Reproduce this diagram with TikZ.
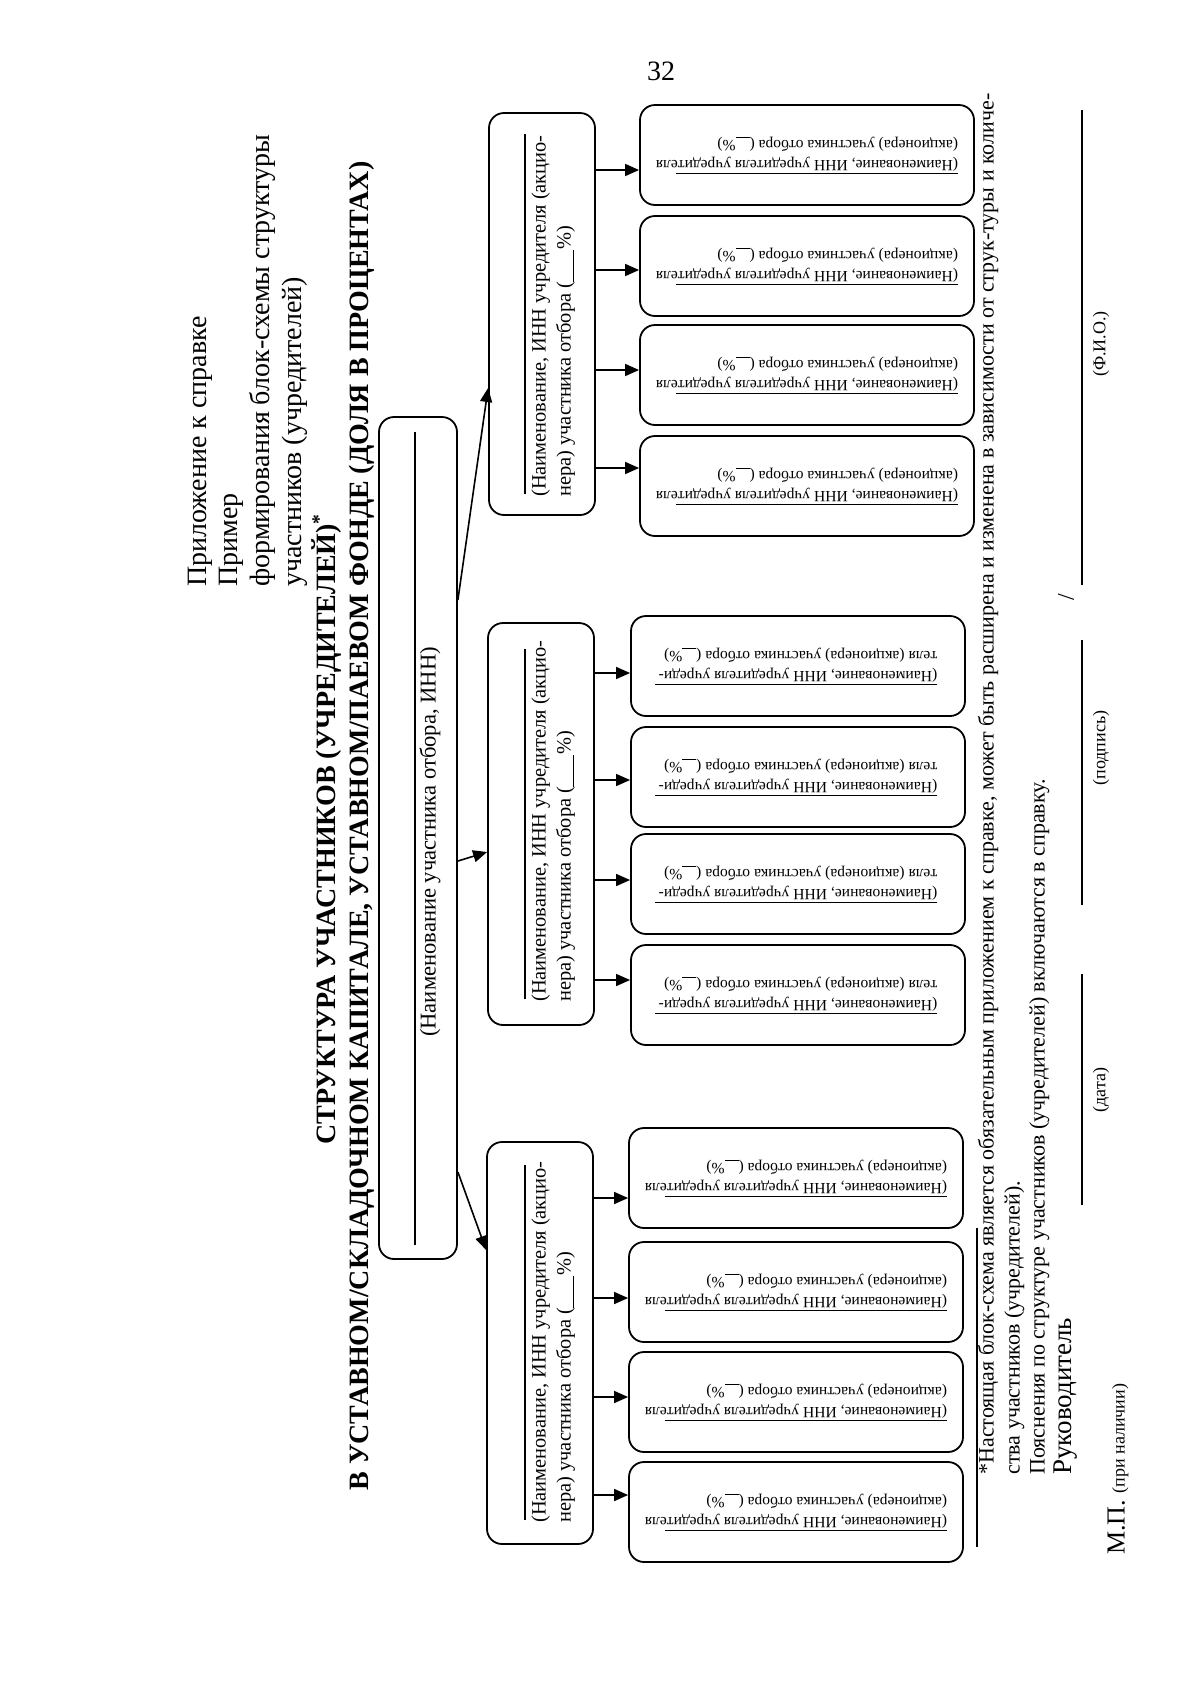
\documentclass[tikz,border=0pt]{standalone}
\usepackage{fontspec}
\setmainfont{Liberation Serif}
\usetikzlibrary{arrows.meta,calc}

\newcommand{\blank}[1]{\underline{\hspace{#1}}}
\newcommand{\sbtext}{\rlap{\rule[6.2pt]{141pt}{0.5pt}}(Наименование, ИНН учредителя учредителя\\(акционера) участника отбора (\blank{7pt}\%)}
\newcommand{\sbtextb}{\rlap{\rule[6.2pt]{141pt}{0.5pt}}(Наименование, ИНН учредителя учреди-\\теля (акционера) участника отбора (\blank{7pt}\%)}

\begin{document}
\begin{tikzpicture}[x=0.5pt,y=-0.5pt,
  box/.style={draw, line width=0.9pt, rounded corners=7.5pt, inner sep=0pt},
  mainbox/.style={box, minimum width=39pt, minimum height=421pt},
  midbox/.style={box, minimum width=53pt, minimum height=201pt},
  smallbox/.style={box, rotate=180, minimum width=167pt, minimum height=50pt,
    align=left, font=\fontsize{7.8}{10}\selectfont},
  arr/.style={line width=0.8pt, -{Triangle[length=7pt,width=6pt]}},
  blankline/.style={line width=0.6pt},
  vtext/.style={rotate=90, anchor=mid west, inner sep=0pt},
  midtext/.style={vtext, font=\fontsize{10.2}{12}\selectfont},
  title/.style={vtext, font=\fontsize{14}{16}\selectfont},
  btitle/.style={rotate=90, inner sep=0pt, font=\fontsize{14}{16}\selectfont\bfseries},
  note/.style={vtext, font=\fontsize{11}{13}\selectfont},
  sign/.style={rotate=90, inner sep=0pt, font=\fontsize{9}{11}\selectfont}]
\useasboundingbox[fill=white] (0,0) rectangle (1200,1688);

\node[font=\fontsize{14}{16}\selectfont] (pnum) at (661,71) {32};

% heading
\node[title] (h1) at (202,587) {Приложение к справке};
\node[title] (h2) at (233,587) {Пример};
\node[title] (h3) at (265,587) {формирования блок-схемы структуры};
\node[title] (h4) at (297,587) {участников (учредителей)};
\node[btitle] (t1) at (327,829) {СТРУКТУРА УЧАСТНИКОВ (УЧРЕДИТЕЛЕЙ)\textsuperscript{*}};
\node[btitle] (t2) at (362,826) {В УСТАВНОМ/СКЛАДОЧНОМ КАПИТАЛЕ, УСТАВНОМ/ПАЕВОМ ФОНДЕ (ДОЛЯ В ПРОЦЕНТАХ)};

% participant
\node[mainbox] (main) at (418,838) {};
\draw[blankline] (415,1245) -- (415,432);
\node[rotate=90, inner sep=0pt, font=\fontsize{11.3}{13}\selectfont] (mainlbl) at (430,842)
  {(Наименование участника отбора, ИНН)};

% founders
\node[midbox] (ma) at (542,314) {};
\node[midbox] (mb) at (541,824) {};
\node[midbox] (mc) at (540,1343) {};

\draw[blankline] (525,494) -- (525,134);
\node[midtext] (ma1) at (541,497) {(Наименование, ИНН учредителя (акцио-};
\node[midtext] (ma2) at (566,497) {нера) участника отбора (\blank{16pt}\%)};
\draw[blankline] (525,999) -- (525,649);
\node[midtext] (mb1) at (541,1002) {(Наименование, ИНН учредителя (акцио-};
\node[midtext] (mb2) at (566,1002) {нера) участника отбора (\blank{16pt}\%)};
\draw[blankline] (525,1520) -- (525,1165);
\node[midtext] (mc1) at (541,1523) {(Наименование, ИНН учредителя (акцио-};
\node[midtext] (mc2) at (566,1523) {нера) участника отбора (\blank{16pt}\%)};

\draw[arr] (main.east |- 0,600) -- (ma.west |- 0,388);
\draw[arr] (main.east |- 0,861) -- (mb.west |- 0,852);
\draw[arr] (main.east |- 0,1172) -- (mc.west |- 0,1250);

% founders of founders
\node[smallbox] (sa1) at (807,155) {\sbtext};
\node[smallbox] (sa2) at (807,266) {\sbtext};
\node[smallbox] (sa3) at (807,375) {\sbtext};
\node[smallbox] (sa4) at (807,486) {\sbtext};

\node[smallbox] (sb1) at (798,666) {\sbtextb};
\node[smallbox] (sb2) at (798,777) {\sbtextb};
\node[smallbox] (sb3) at (798,884) {\sbtextb};
\node[smallbox] (sb4) at (798,995) {\sbtextb};

\node[smallbox] (sc1) at (796,1178) {\sbtext};
\node[smallbox] (sc2) at (796,1292) {\sbtext};
\node[smallbox] (sc3) at (796,1402) {\sbtext};
\node[smallbox] (sc4) at (796,1512) {\sbtext};

\foreach \y/\n in {170/1,270/2,370/3,468/4}
  \draw[arr] (ma.east |- 0,\y) -- (sa\n.east |- 0,\y);
\foreach \y/\n in {673/1,780/2,880/3,980/4}
  \draw[arr] (mb.east |- 0,\y) -- (sb\n.east |- 0,\y);
\foreach \y/\n in {1198/1,1298/2,1397/3,1495/4}
  \draw[arr] (mc.east |- 0,\y) -- (sc\n.east |- 0,\y);

% footnote and signatures
\draw[blankline] (977,1228) -- (977,1547);
\node[note] (n1) at (989,1475) {*Настоящая блок-схема является обязательным приложением к справке, может быть расширена и изменена в зависимости от струк-туры и количе-};
\node[note] (n2) at (1015,1475) {ства участников (учредителей).};
\node[note] (n3) at (1040,1475) {Пояснения по структуре участников (учредителей) включаются в справку.};
\node[vtext, font=\fontsize{13.5}{16}\selectfont] (boss) at (1067,1475) {Руководитель};
\node[vtext, font=\fontsize{13}{16}\selectfont] (mp) at (1120,1555) {М.П. {\fontsize{9}{11}\selectfont(при наличии)}};

\draw[blankline] (1082,1205) -- (1082,974);
\draw[blankline] (1082,905) -- (1082,640);
\draw[blankline] (1082,585) -- (1082,110);
\node[rotate=90, inner sep=0pt, font=\fontsize{12}{14}\selectfont] (slash) at (1066,597) {/};
\node[sign] (date) at (1101,1090) {(дата)};
\node[sign] (sig) at (1101,748) {(подпись)};
\node[sign] (fio) at (1101,344) {(Ф.И.О.)};
\end{tikzpicture}
\end{document}
